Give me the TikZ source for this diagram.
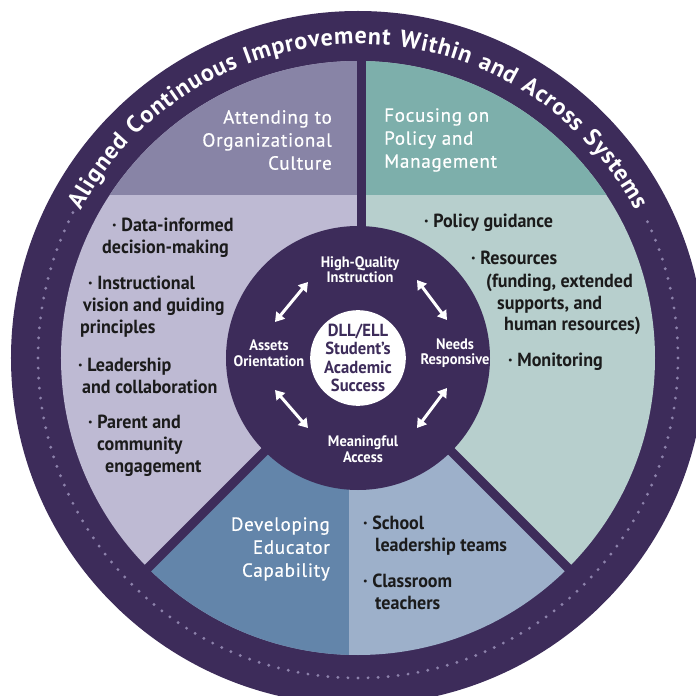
\documentclass[tikz,border=0pt]{standalone}
\usepackage{fontspec}
\setmainfont{PT Sans}
\newfontfamily\narrowsans[FakeStretch=0.95]{PT Sans}
\newfontfamily\spacedsans[LetterSpace=5]{PT Sans}
\newfontfamily\headsans[LetterSpace=4, FakeBold=0.6]{PT Sans}
\usetikzlibrary{arrows.meta, decorations.text}
\definecolor{ringpurple}{HTML}{3D2C5A}
\definecolor{dotpurple}{HTML}{8D82AB}
\definecolor{culturehead}{HTML}{8884A6}
\definecolor{culturebg}{HTML}{BEBAD3}
\definecolor{policyhead}{HTML}{7DAFAB}
\definecolor{policybg}{HTML}{B7CFCD}
\definecolor{educatorhead}{HTML}{6385AA}
\definecolor{educatorbg}{HTML}{9DB0CA}
\definecolor{inktext}{HTML}{1B1B1B}
\newcommand\ringfont{\spacedsans\bfseries\fontsize{24}{26}\selectfont}

\begin{document}
\begin{tikzpicture}[x=1pt, y=1pt,
  gapline/.style={draw=ringpurple, line width=9pt},
  header/.style={font=\headsans\fontsize{19}{23}\selectfont, text=white, inner sep=0pt},
  bullets/.style={font=\narrowsans\bfseries\fontsize{19}{22}\selectfont, text=inktext,
    align=left, inner sep=0pt, anchor=base west},
  pillar/.style={font=\narrowsans\bfseries\fontsize{15.2}{15.5}\selectfont, text=white,
    align=center, inner sep=0pt},
  link/.style={{Triangle[width=11pt,length=9pt]}-{Triangle[width=11pt,length=9pt]},
    line width=3pt, white}
]

% frame and outer ring
\clip (-358,-338) rectangle (338,358);
\fill[white] (-358,-338) rectangle (338,358);
\fill[ringpurple] (0,0) circle (347);

% the three sectors
\fill[culturebg] (0,0) -- (90:297) arc[start angle=90, end angle=225, radius=297] -- cycle;
\fill[policybg] (0,0) -- (-45:297) arc[start angle=-45, end angle=90, radius=297] -- cycle;
\fill[educatorbg] (0,0) -- (225:297) arc[start angle=225, end angle=315, radius=297] -- cycle;
\begin{scope}
  \clip (0,0) -- (90:297) arc[start angle=90, end angle=225, radius=297] -- cycle;
  \fill[culturehead] (-300,163) rectangle (0,300);
\end{scope}
\begin{scope}
  \clip (0,0) -- (-45:297) arc[start angle=-45, end angle=90, radius=297] -- cycle;
  \fill[policyhead] (0,163) rectangle (300,300);
\end{scope}
\begin{scope}
  \clip (0,0) -- (225:297) arc[start angle=225, end angle=315, radius=297] -- cycle;
  \fill[educatorhead] (-300,-300) rectangle (-9,0);
\end{scope}
\draw[gapline] (3.5,100) -- (3.5,310);
\draw[gapline] (225:100) -- (225:310);
\draw[gapline] (-45:100) -- (-45:310);

% dotted track and ring title
\foreach \a in {153,154.8,...,387}
  \fill[dotpurple] (\a:320) circle (1.6);
\path[decorate, decoration={text along path, text align={fit to path}, text color=white,
    text={|\ringfont|Aligned Continuous Improvement Within and Across Systems}}]
  (152:314) arc[start angle=152, end angle=28, radius=314];

% hub
\fill[ringpurple] (0,0) circle (132);
\node[circle, fill=white, minimum size=93pt, inner sep=0pt, text=ringpurple, align=center,
  font=\narrowsans\bfseries\fontsize{17.5}{18.3}\selectfont] (core) at (0,0)
  {DLL/ELL\\Student’s\\Academic\\Success};
\node[pillar] (quality) at (2,88.5) {High-Quality\\Instruction};
\node[pillar] (assets) at (-89,5) {Assets\\Orientation};
\node[pillar] (needs) at (97,5) {Needs\\Responsive};
\node[pillar] (access) at (5,-91) {Meaningful\\Access};

\coordinate (ulA) at (-83,36);  \coordinate (ulB) at (-50,76);
\coordinate (urA) at (59,78);   \coordinate (urB) at (89,38);
\coordinate (llA) at (-83,-32); \coordinate (llB) at (-50,-70);
\coordinate (lrA) at (89,-30);  \coordinate (lrB) at (59,-70);
\draw[link] (ulA) -- (ulB);
\draw[link] (urA) -- (urB);
\draw[link] (llA) -- (llB);
\draw[link] (lrA) -- (lrB);

% sector headings
\node[header, anchor=east, align=right] (culture) at (-26,218)
  {Attending to\\Organizational\\Culture};
\node[header, anchor=west, align=left] (policy) at (26,218)
  {Focusing on\\Policy and\\Management};
\node[header, anchor=east, align=right] (educator) at (-28,-191)
  {Developing\\Educator\\Capability};

% sector items (anchored on the last line)
\node[bullets] (data) at (-256,104) {\hspace*{10pt}· Data-informed\\decision-making};
\node[bullets] (vision) at (-278,24)
  {\hspace*{8pt}· Instructional\\\hspace*{3pt}vision and guiding\\principles};
\node[bullets] (leader) at (-280,-35) {· Leadership\\\hspace*{4pt}and collaboration};
\node[bullets] (parent) at (-270,-114)
  {· Parent and\\\hspace*{9pt}community\\\hspace*{17pt}engagement};
\node[bullets] (guide) at (66,130) {· Policy guidance};
\node[bullets] (funds) at (113,27)
  {· Resources\\\hspace*{15pt}(funding, extended\\\hspace*{26pt}supports, and\\\hspace*{33pt}human resources)};
\node[bullets] (monitor) at (150,-8) {· Monitoring};
\node[bullets] (school) at (5,-193) {· School\\\hspace*{12pt}leadership teams};
\node[bullets] (teacher) at (5,-251) {· Classroom\\\hspace*{12pt}teachers};

\end{tikzpicture}
\end{document}
